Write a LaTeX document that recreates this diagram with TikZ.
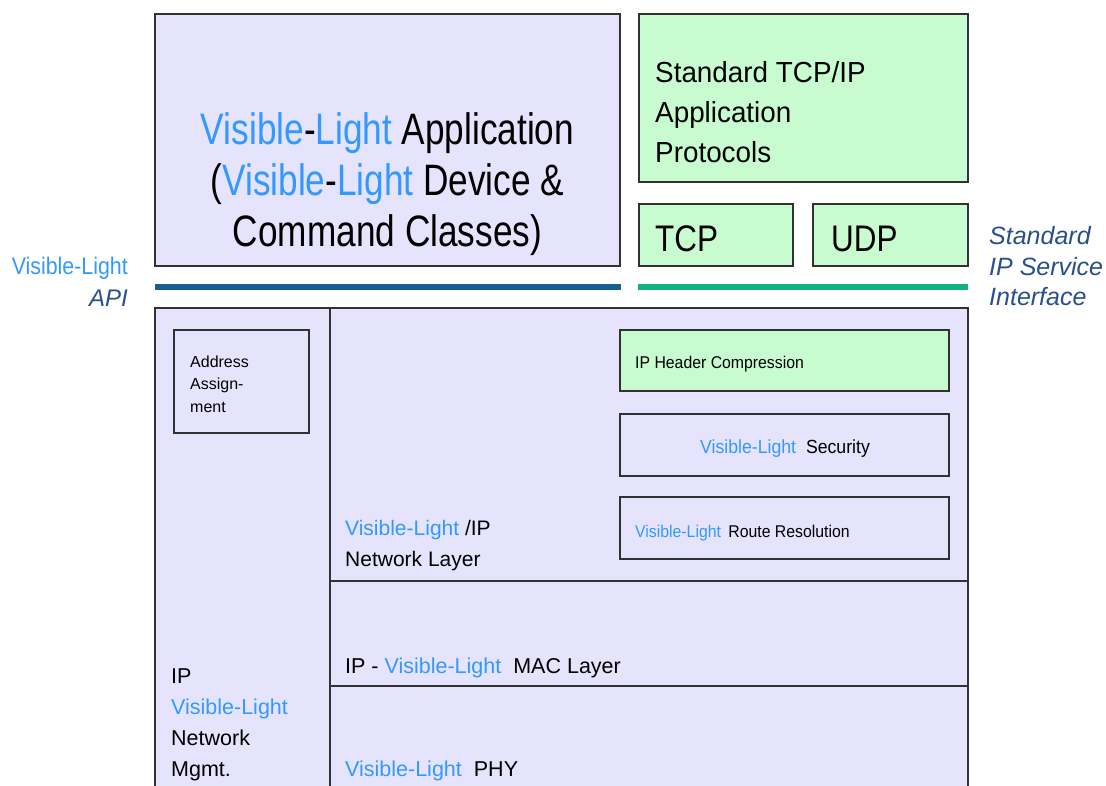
\documentclass[tikz,border=0pt]{standalone}
\usepackage{fontspec}
\setmainfont{Liberation Sans}
% narrower cuts of the same face for the wider labels
\newfontfamily\appfont[FakeStretch=0.80]{Liberation Sans}
\newfontfamily\tcpfont[FakeStretch=0.85]{Liberation Sans}
\newfontfamily\protofont[FakeStretch=0.96]{Liberation Sans}
\newfontfamily\smallfont[FakeStretch=0.93]{Liberation Sans}
\newfontfamily\apifont[FakeStretch=0.89]{Liberation Sans}

\definecolor{lav}{RGB}{230,228,252}
\definecolor{mint}{RGB}{200,252,208}
\definecolor{vl}{RGB}{51,153,255}
\definecolor{navy}{RGB}{40,80,140}
\definecolor{apiline}{RGB}{20,95,150}
\definecolor{ipline}{RGB}{16,176,128}
\definecolor{edge}{RGB}{50,50,50}

\newcommand{\VL}{\textcolor{vl}{Visible-Light}}
\newcommand{\VLdark}{\textcolor{vl}{Visible}-\textcolor{vl}{Light}}

\begin{document}
\begin{tikzpicture}[x=1pt,y=-1pt,
  box/.style={draw=edge,line width=1.3pt},
  lavbox/.style={box,fill=lav},
  mintbox/.style={box,fill=mint},
  txt/.style={inner sep=0pt,anchor=base west,text=black},
  band/.style={line width=6pt}]
\useasboundingbox (0,0) rectangle (1106,786);
\clip (0,0) rectangle (1106,786);
\fill[white] (0,0) rectangle (1106,786);

% upper layer boxes
\draw[lavbox]  (155,14)  rectangle (620,266);
\draw[mintbox] (639,14)  rectangle (968,182);
\draw[mintbox] (639,204) rectangle (793,266);
\draw[mintbox] (813,204) rectangle (968,266);

% interface bands
\coordinate (apiL) at (155,287);
\coordinate (apiR) at (621,287);
\coordinate (ipL) at (638,287);
\coordinate (ipR) at (968,287);
\draw[band,apiline] (apiL) -- (apiR);
\draw[band,ipline] (ipL) -- (ipR);

% lower stack
\draw[lavbox] (155,308) rectangle (968,820);
\draw[box] (330,308) -- (330,800);
\draw[box] (330,581) -- (968,581);
\draw[box] (330,686) -- (968,686);
\draw[lavbox]  (174,330) rectangle (309,433);
\draw[mintbox] (620,330) rectangle (949,391);
\draw[lavbox]  (620,414) rectangle (949,476);
\draw[lavbox]  (620,497) rectangle (949,559);

% texts (multi-line nodes are placed by the baseline of their last line)
\node[inner sep=0pt,anchor=base,align=center,font=\appfont\fontsize{44}{51}\selectfont] (app) at (387.5,247)
  {\VLdark{} Application\\(\VLdark{} Device \&\\Command Classes)};
\node[txt,align=left,font=\protofont\fontsize{29}{40}\selectfont] (proto) at (655,163)
  {Standard TCP/IP\\Application\\Protocols};
\node[txt,font=\tcpfont\fontsize{37}{40}\selectfont] (tcp) at (655,252) {TCP};
\node[txt,font=\tcpfont\fontsize{37}{40}\selectfont] (udp) at (831,252) {UDP};

\node[txt,align=left,text=navy,font=\itshape\fontsize{25}{30.5}\selectfont] (sipsi) at (989,306)
  {Standard\\IP Service\\Interface};
\node[inner sep=0pt,anchor=base east,align=right,font=\fontsize{24}{32}\selectfont] (api) at (128,307)
  {{\apifont\textcolor{vl}{Visible-Light}}\\{\itshape\textcolor{navy}{API}}};

\node[txt,align=left,font=\fontsize{16}{22.5}\selectfont] (addr) at (190,412)
  {Address\\Assign-\\ment};
\node[txt,font=\smallfont\fontsize{17}{20}\selectfont] (iphc) at (635,368) {IP Header Compression};
\node[txt,font=\smallfont\fontsize{19}{20}\selectfont] (sec) at (700,453) {\VL\hspace{5pt} Security};
\node[txt,font=\smallfont\fontsize{17}{20}\selectfont] (route) at (635,537) {\VL\hspace{3pt} Route Resolution};

\node[txt,align=left,font=\fontsize{21}{31}\selectfont] (nwl) at (345,566)
  {\VL{} /IP\\Network Layer};
\node[txt,font=\fontsize{21.5}{31}\selectfont] (mac) at (345,673) {IP - \VL\hspace{6pt} MAC Layer};
\node[txt,font=\fontsize{21.5}{31}\selectfont] (phy) at (345,776) {\VL\hspace{6pt} PHY};
\node[txt,align=left,font=\fontsize{21.5}{31}\selectfont] (mgmt) at (171,776)
  {IP\\\VL\\Network\\Mgmt.};
\end{tikzpicture}
\end{document}
